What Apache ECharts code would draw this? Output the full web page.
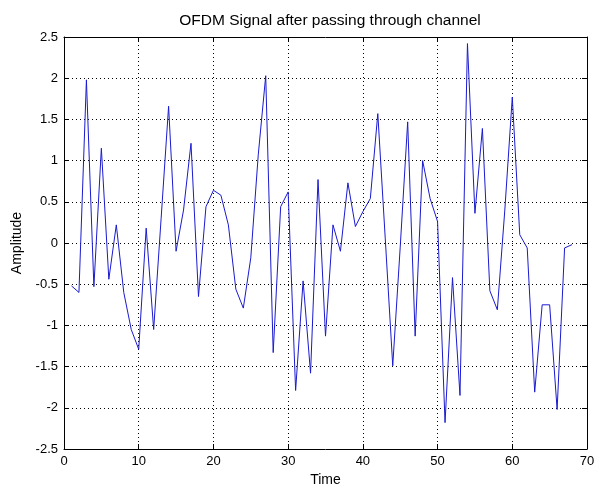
<!DOCTYPE html>
<html>
<head>
<meta charset="utf-8">
<script src="https://cdn.jsdelivr.net/npm/echarts@6/dist/echarts.min.js"></script>
<style>
html, body { margin: 0; padding: 0; background: #fff; }
#chart { width: 595px; height: 491px; }
</style>
</head>
<body>
<div id="chart"></div>
<script>
// sample index 1..68 and amplitude
var times = [];
for (var i = 1; i <= 68; i++) times.push(i);
var amplitude = [
    -0.52, -0.6, 1.98, -0.53, 1.15, -0.44, 0.22, -0.6, -1.05, -1.29,
    0.18, -1.05, 0.3, 1.66, -0.1, 0.4, 1.21, -0.65, 0.44, 0.64,
    0.58, 0.22, -0.56, -0.79, -0.18, 1.07, 2.03, -1.33, 0.44, 0.62,
    -1.79, -0.46, -1.58, 0.77, -1.13, 0.22, -0.1, 0.73, 0.2, 0.38,
    0.54, 1.57, 0.05, -1.49, -0.05, 1.47, -1.13, 1.0, 0.54, 0.26,
    -2.18, -0.42, -1.85, 2.42, 0.36, 1.39, -0.58, -0.81, 0.4, 1.77,
    0.1, -0.06, -1.81, -0.75, -0.75, -2.02, -0.06, -0.02
];
var xTicks = [0, 70, 10];   // min, max, step
var yTicks = [-2.5, 2.5, 0.5];

var font = 'Liberation Sans, Arial, sans-serif';

var chart = echarts.init(document.getElementById('chart'));

var lineData = times.map(function (t, i) { return [t, amplitude[i]]; });

// matlab style box: ticks pointing inwards on every side
function frameAxis(pos, labels, ticks) {
    return {
        type: 'value',
        position: pos,
        min: ticks[0], max: ticks[1], interval: ticks[2],
        axisLine: { show: true, onZero: false, lineStyle: { color: '#000', width: 1 } },
        axisTick: { show: true, inside: true, length: 5, lineStyle: { color: '#000' } },
        axisLabel: labels ? { show: true, color: '#000', fontFamily: font, fontSize: 13, margin: 6 } : { show: false },
        splitLine: labels ? { show: true, lineStyle: { color: '#000', type: [1, 3], width: 1 } } : { show: false }
    };
}

var xBottom = frameAxis('bottom', true, xTicks);
xBottom.name = 'Time';
xBottom.nameLocation = 'middle';
xBottom.nameGap = 24;
xBottom.nameTextStyle = { color: '#000', fontFamily: font, fontSize: 14 };

var yLeft = frameAxis('left', true, yTicks);
yLeft.name = 'Amplitude';
yLeft.nameLocation = 'middle';
yLeft.nameGap = 40;
yLeft.nameTextStyle = { color: '#000', fontFamily: font, fontSize: 14 };

var option = {
    backgroundColor: '#fff',
    animation: false,
    title: {
        text: 'OFDM Signal after passing through channel',
        left: 325, top: 8, textAlign: 'center',
        textStyle: { color: '#000', fontFamily: font, fontSize: 15.5, fontWeight: 'normal' }
    },
    grid: { left: 64, right: 8, top: 37, bottom: 42, outerBoundsMode: 'none' },
    xAxis: [xBottom, frameAxis('top', false, xTicks)],
    yAxis: [yLeft, frameAxis('right', false, yTicks)],
    series: [
        {
            type: 'line',
            data: lineData,
            showSymbol: false,
            lineStyle: { color: '#1a1ad0', width: 1 }
        }
    ]
};
chart.setOption(option);
</script>
</body>
</html>
